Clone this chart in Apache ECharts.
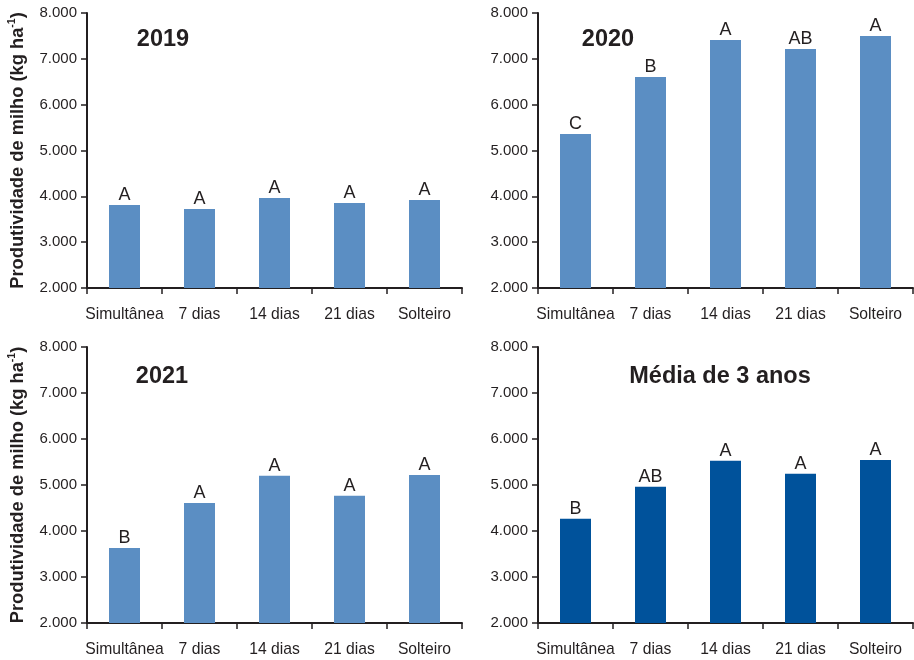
<!DOCTYPE html>
<html>
<head>
<meta charset="utf-8">
<script src="https://cdn.jsdelivr.net/npm/echarts@6/dist/echarts.min.js"></script>
<style>
  html, body { margin: 0; padding: 0; background: #ffffff; }
  #chart { width: 914px; height: 660px; }
</style>
</head>
<body>
<div id="chart"></div>
<script>
// Treatments (sowing time of the intercrop relative to maize)
const categories = ['Simultânea', '7 dias', '14 dias', '21 dias', 'Solteiro'];

// Maize yield, kg/ha
const yield2019 = [3810, 3725, 3965, 3855, 3920];
const yield2020 = [5360, 6605, 7410, 7215, 7500];
const yield2021 = [3630, 4610, 5200, 4765, 5220];
const yieldMean = [4265, 4960, 5525, 5245, 5545];

// Mean comparison letters
const letters2019 = ['A', 'A', 'A', 'A', 'A'];
const letters2020 = ['C', 'B', 'A', 'AB', 'A'];
const letters2021 = ['B', 'A', 'A', 'A', 'A'];
const lettersMean = ['B', 'AB', 'A', 'A', 'A'];

const panelTitles = ['2019', '2020', '2021', 'Média de 3 anos'];

const FONT = '"Liberation Sans", Arial, Helvetica, sans-serif';
const INK = '#231f20';
const LIGHT = '#5b8ec3';
const DARK = '#00529b';

function thousands(v) {
  return String(v).replace(/\B(?=(\d{3})+(?!\d))/g, '.');
}

const panels = [
  { values: yield2019, letters: letters2019, color: LIGHT, left: 87, top: 13, height: 275, yName: true },
  { values: yield2020, letters: letters2020, color: LIGHT, left: 538, top: 13, height: 275, yName: false },
  { values: yield2021, letters: letters2021, color: LIGHT, left: 87, top: 347, height: 276, yName: true },
  { values: yieldMean, letters: lettersMean, color: DARK, left: 538, top: 347, height: 276, yName: false }
];
const titlePos = [
  { x: 163, y: 28 }, { x: 608, y: 28 }, { x: 162, y: 365 }, { x: 720, y: 365 }
];

const grid = [], xAxis = [], yAxis = [], series = [], title = [];

panels.forEach((p, i) => {
  grid.push({ left: p.left, top: p.top, width: 375, height: p.height, containLabel: false });
  xAxis.push({
    type: 'category',
    gridIndex: i,
    data: categories,
    boundaryGap: true,
    axisLine: { lineStyle: { color: INK, width: 2 } },
    axisTick: { show: true, interval: 0, length: 6, lineStyle: { color: INK, width: 1.5 } },
    axisLabel: { interval: 0, margin: 19, color: INK, fontSize: 15.7, fontFamily: FONT }
  });
  yAxis.push({
    type: 'value',
    gridIndex: i,
    min: 2000,
    max: 8000,
    interval: 1000,
    splitLine: { show: false },
    axisLine: { show: true, lineStyle: { color: INK, width: 2 } },
    axisTick: { show: true, length: 6, lineStyle: { color: INK, width: 1.5 } },
    axisLabel: { margin: 10, color: INK, fontSize: 15, fontFamily: FONT, formatter: v => thousands(v) },
    name: p.yName ? '{b|Produtividade de milho (kg ha}{s|-1}{b|)}' : '',
    nameLocation: 'middle',
    nameRotate: 90,
    nameGap: 59,
    nameTextStyle: {
      rich: {
        b: { fontSize: 18.3, fontWeight: 'bold', color: INK, fontFamily: FONT, lineHeight: 21 },
        s: { fontSize: 10.5, fontWeight: 'bold', color: INK, fontFamily: FONT, lineHeight: 10, verticalAlign: 'top' }
      }
    }
  });
  series.push({
    type: 'bar',
    xAxisIndex: i,
    yAxisIndex: i,
    data: p.values,
    barWidth: 31,
    itemStyle: { color: p.color },
    label: {
      show: true,
      position: 'top',
      distance: 1,
      color: INK,
      fontSize: 18,
      fontFamily: FONT,
      formatter: params => p.letters[params.dataIndex]
    },
    emphasis: { disabled: true }
  });
  title.push({
    text: panelTitles[i],
    left: titlePos[i].x,
    top: titlePos[i].y,
    textAlign: 'center',
    padding: 0,
    textStyle: { fontSize: 23.5, fontWeight: 'bold', color: INK, fontFamily: FONT }
  });
});

const chart = echarts.init(document.getElementById('chart'), null, { renderer: 'canvas' });
chart.setOption({
  animation: false,
  backgroundColor: '#ffffff',
  title: title,
  grid: grid,
  xAxis: xAxis,
  yAxis: yAxis,
  series: series
});
</script>
</body>
</html>
